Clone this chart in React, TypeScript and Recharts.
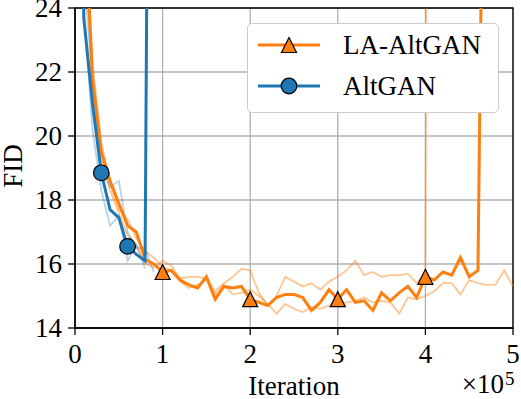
import React from "react";
import {
  CartesianGrid,
  Label,
  Legend,
  Line,
  LineChart,
  ReferenceArea,
  XAxis,
  YAxis,
} from "recharts";

// iteration, in units of 1e5
const ITER = [
  0, 0.1, 0.2, 0.3, 0.4, 0.5, 0.6, 0.7, 0.8, 0.9,
  1, 1.1, 1.2, 1.3, 1.4, 1.5, 1.6, 1.7, 1.8, 1.9,
  2, 2.1, 2.2, 2.3, 2.4, 2.5, 2.6, 2.7, 2.8, 2.9,
  3, 3.1, 3.2, 3.3, 3.4, 3.5, 3.6, 3.7, 3.8, 3.9,
  4, 4.1, 4.2, 4.3, 4.4, 4.5, 4.6, 4.7, 4.8, 4.9, 5,
];

const LA_ALTGAN = [
  60, 27.5, 21.8, 19.5, 18.6, 17.9, 17.2, 17.0, 16.15, 16.0,
  15.75, 15.8, 15.5, 15.35, 15.25, 15.6, 14.9, 15.3, 15.25, 15.3,
  14.9, 14.8, 14.7, 14.95, 15.05, 15.05, 14.95, 14.55, 14.8, 15.2,
  14.9, 15.2, 14.8, 14.85, 14.55, 15.1, 14.85, 15.1, 15.3, 14.95,
  15.6, 15.5, 15.75, 15.65, 16.2, 15.6, 15.8, 40,
];
const LA_RUN_A = [
  60, 28, 22.3, 19.8, 18.5, 17.7, 17.4, 16.8, 16.4, 16.2,
  15.9, 15.8, 15.45, 15.25, 15.35, 15.5, 15.05, 15.35, 15.05, 15.1,
  15.2, 15.0, 14.75, 14.45, 14.75, 14.6, 14.5, 14.65, 14.6, 14.7,
  14.75, 14.8, 14.85, 14.95, 14.8, 14.85, 14.8, 14.45, 14.95, 14.9,
  15.0, 15.15, 15.4, 15.4, 15.05, 15.5, 15.4, 15.35, 15.35, 15.8, 15.3,
];
const LA_RUN_B = [
  60, 27, 21.5, 19.3, 18.3, 17.6, 16.9, 16.6, 16.0, 15.9,
  16.1, 15.95, 15.55, 15.6, 15.6, 15.55, 15.15, 15.4, 15.6, 15.85,
  15.8, 15.1, 14.7, 15.0, 15.6, 15.45, 15.3, 15.4, 15.2, 15.45,
  15.6, 15.8, 16.1, 15.65, 15.75, 15.6, 15.65, 15.65, 15.7, 15.4,
  15.7, 90,
];

const ALTGAN = [58, 23.7, 21.0, 18.85, 17.7, 17.45, 16.55, 16.3, 16.1, 60];
const ALT_RUN_A = [55, 24.0, 20.2, 18.3, 17.2, 17.5, 16.1, 16.6, 15.85];
const ALT_RUN_B = [55, 25.2, 21.6, 19.0, 18.4, 18.6, 17.0, 16.5, 16.5, 15.75];

const LA_MARKS = [10, 20, 30, 40];
const ALT_MARKS = [3, 6];

const X_TICKS = [0, 1, 2, 3, 4, 5];
const Y_TICKS = [14, 16, 18, 20, 22, 24];

const ORANGE = "#ff7f0e";
const BLUE = "#1f77b4";
const FONT = "Liberation Serif";
const serif = { fontFamily: FONT };

const rows = ITER.map((x, i) => ({
  x,
  la: LA_ALTGAN[i] ?? null,
  laA: LA_RUN_A[i] ?? null,
  laB: LA_RUN_B[i] ?? null,
  alt: ALTGAN[i] ?? null,
  altA: ALT_RUN_A[i] ?? null,
  altB: ALT_RUN_B[i] ?? null,
}));

const tri = (cx: number, cy: number, h = 7.5) =>
  `M${cx},${cy - h}L${cx + h},${cy + h}L${cx - h},${cy + h}Z`;

const triDot = (p: any) => {
  const { cx, cy, index } = p;
  if (!LA_MARKS.includes(index) || cx == null || cy == null) return <g key={`t${index}`} />;
  return <path key={`t${index}`} d={tri(cx, cy)} fill={ORANGE} stroke="#000" strokeWidth={1.2} />;
};

const circleDot = (p: any) => {
  const { cx, cy, index } = p;
  if (!ALT_MARKS.includes(index) || cx == null || cy == null) return <g key={`c${index}`} />;
  return <circle key={`c${index}`} cx={cx} cy={cy} r={7.8} fill={BLUE} stroke="#000" strokeWidth={1.2} />;
};

const XTick = (p: any) => (
  <text x={p.x} y={p.y + 19} textAnchor="middle" fontSize={27} fill="#000" style={serif}>
    {p.payload.value}
  </text>
);

const YTick = (p: any) => (
  <text x={p.x} y={p.y + 9} textAnchor="end" fontSize={27} fill="#000" style={serif}>
    {p.payload.value}
  </text>
);

const XLabel = (props: any) => {
  const { x, y, width } = props.viewBox;
  return (
    <g fill="#000">
      <text x={x + width / 2} y={y + 67} textAnchor="middle" fontSize={27} style={serif}>
        Iteration
      </text>
      <text x={x + width - 9} y={y + 65} textAnchor="end" fontSize={27} style={serif}>
        ×10
      </text>
      <text x={x + width - 8} y={y + 57} fontSize={19} style={serif}>
        5
      </text>
    </g>
  );
};

const YLabel = () => (
  <text
    x={22}
    y={166}
    transform="rotate(-90 22 166)"
    textAnchor="middle"
    fontSize={27}
    fill="#000"
    style={serif}
  >
    FID
  </text>
);

function LegendBox() {
  const entry = (top: number, color: string, label: string, marker: React.ReactNode) => (
    <div style={{ position: "absolute", left: 0, top, height: 30, width: "100%" }}>
      <svg width={80} height={30} style={{ position: "absolute", left: 0, top: 0 }}>
        <line x1={10} y1={15} x2={72} y2={15} stroke={color} strokeWidth={3} />
        {marker}
      </svg>
      <span
        style={{
          position: "absolute",
          left: 95,
          top: 0,
          lineHeight: "30px",
          fontSize: 27,
          fontFamily: FONT,
          color: "#000",
          whiteSpace: "nowrap",
        }}
      >
        {label}
      </span>
    </div>
  );
  return (
    <div
      style={{
        position: "relative",
        width: 252,
        height: 90,
        boxSizing: "border-box",
        border: "1.5px solid #cccccc",
        borderRadius: 5,
        background: "#fff",
      }}
    >
      {entry(6, ORANGE, "LA-AltGAN", <path d={tri(41, 15)} fill={ORANGE} stroke="#000" strokeWidth={1.2} />)}
      {entry(47, BLUE, "AltGAN", <circle cx={41} cy={15} r={7.8} fill={BLUE} stroke="#000" strokeWidth={1.2} />)}
    </div>
  );
}

export default function App() {
  const axisStroke = { stroke: "#000", strokeWidth: 1.3 };
  return (
    <div style={{ position: "absolute", left: 0, top: 0, background: "#fff", fontFamily: FONT }}>
      <LineChart
        width={521}
        height={399}
        data={rows}
        margin={{ top: 8, right: 8, bottom: 0, left: 0 }}
        style={serif}
      >
        <CartesianGrid stroke="#b0b0b0" strokeWidth={1.3} />
        <XAxis
          dataKey="x"
          type="number"
          domain={[0, 5]}
          ticks={X_TICKS}
          interval={0}
          allowDataOverflow
          height={71}
          tickSize={7}
          tickMargin={9}
          axisLine={axisStroke}
          tickLine={axisStroke}
          tick={XTick}
        >
          <Label content={XLabel} />
        </XAxis>
        <YAxis
          type="number"
          domain={[14, 24]}
          ticks={Y_TICKS}
          interval={0}
          allowDataOverflow
          width={75}
          tickSize={7}
          tickMargin={6}
          axisLine={axisStroke}
          tickLine={axisStroke}
          tick={YTick}
        >
          <Label content={YLabel} />
        </YAxis>
        <Line dataKey="laA" stroke={ORANGE} strokeOpacity={0.45} strokeWidth={1.8} dot={false} activeDot={false} isAnimationActive={false} />
        <Line dataKey="laB" stroke={ORANGE} strokeOpacity={0.45} strokeWidth={1.8} dot={false} activeDot={false} isAnimationActive={false} />
        <Line dataKey="altA" stroke={BLUE} strokeOpacity={0.32} strokeWidth={1.8} dot={false} activeDot={false} isAnimationActive={false} />
        <Line dataKey="altB" stroke={BLUE} strokeOpacity={0.32} strokeWidth={1.8} dot={false} activeDot={false} isAnimationActive={false} />
        <Line dataKey="la" stroke={ORANGE} strokeWidth={3} dot={triDot} activeDot={false} isAnimationActive={false} />
        <Line dataKey="alt" stroke={BLUE} strokeWidth={3} dot={circleDot} activeDot={false} isAnimationActive={false} />
        <ReferenceArea x1={0} x2={5} y1={14} y2={24} fill="none" stroke="#000" strokeWidth={1.3} />
        <Legend
          layout="horizontal"
          verticalAlign="middle"
          align="center"
          wrapperStyle={{ left: 247, top: 23, width: 252, height: 90 }}
          content={() => <LegendBox />}
        />
      </LineChart>
    </div>
  );
}
